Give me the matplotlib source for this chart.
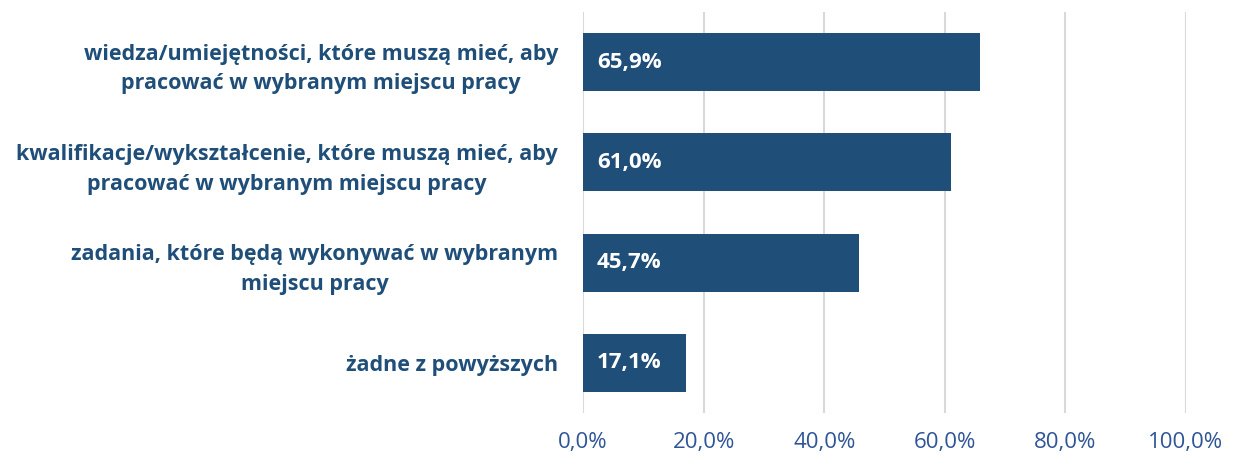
import matplotlib
matplotlib.use("Agg")
import matplotlib.pyplot as plt

categories = [
    "wiedza/umiejętności, które muszą mieć, aby\npracować w wybranym miejscu pracy",
    "kwalifikacje/wykształcenie, które muszą mieć, aby\npracować w wybranym miejscu pracy",
    "zadania, które będą wykonywać w wybranym\nmiejscu pracy",
    "żadne z powyższych",
]
values = [65.9, 61.0, 45.7, 17.1]
xticks = [0, 20, 40, 60, 80, 100]
xtick_labels = ["0,0%", "20,0%", "40,0%", "60,0%", "80,0%", "100,0%"]

bar_color = "#1F4E79"
label_color = "#1F4E79"
tick_color = "#2F5597"

plt.rcParams['font.family'] = ['Open Sans', 'DejaVu Sans']

fig = plt.figure(figsize=(12.38, 4.59), dpi=100)
top_px, bot_px = 12, 413
ax = fig.add_axes([583/1238, 1-bot_px/459, (1186-583)/1238, (bot_px-top_px)/459])

ypos = list(range(len(categories)))
ax.barh(ypos, values, height=0.58, color=bar_color, zorder=3)
ax.set_ylim(len(categories)-0.5, -0.5)
ax.set_xlim(0, 100)

for y, v in zip(ypos, values):
    ax.text(2.3, y, f"{v:.1f}%".replace(".", ","), color="white", fontsize=16,
            fontweight="bold", va="center", ha="left", zorder=4)

ax.set_yticks(ypos)
ax.set_yticklabels(categories, fontsize=15.5, fontweight="bold", color=label_color,
                   ha="right", multialignment="center", linespacing=1.55)
ax.tick_params(axis="y", length=0, pad=18)

ax.set_xticks(xticks)
ax.set_xticklabels(xtick_labels, fontsize=16, color=tick_color)
ax.tick_params(axis="x", length=0, pad=14)

ax.grid(axis="x", color="#D9D9D9", linewidth=1.5, zorder=0)
for s in ax.spines.values():
    s.set_visible(False)

fig.savefig("out.png", dpi=100)
